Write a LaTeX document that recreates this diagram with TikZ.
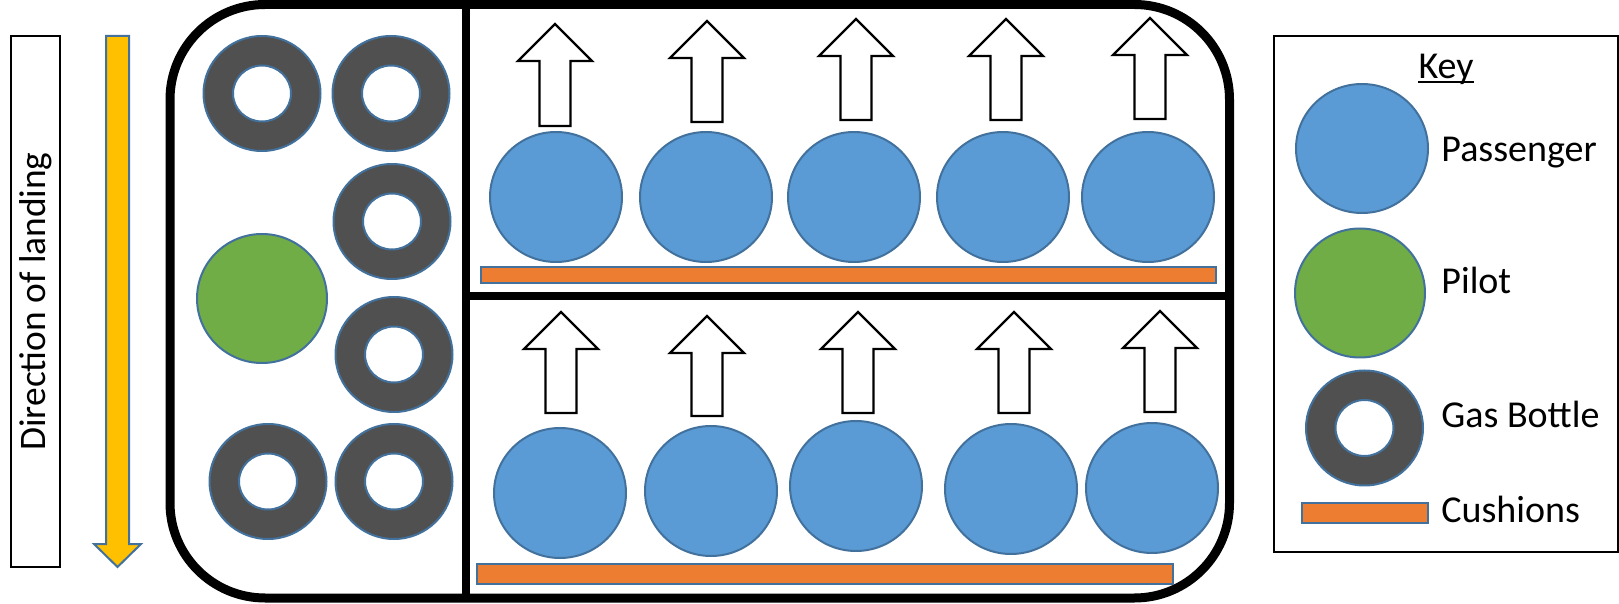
\documentclass[tikz,border=0pt]{standalone}
\usepackage{fontspec}
\setmainfont{Carlito}
\usepackage{tikz}
\usetikzlibrary{shapes.geometric}
\definecolor{cPas}{HTML}{5B9BD5}
\definecolor{cPil}{HTML}{70AD47}
\definecolor{cGas}{HTML}{505050}
\definecolor{cCush}{HTML}{ED7D31}
\definecolor{cYel}{HTML}{FFC000}
\definecolor{cEdge}{HTML}{41719C}

\begin{document}
\begin{tikzpicture}[x=0.5pt, y=-0.5pt, font=\fontsize{19pt}{23pt}\selectfont,
  seat/.style={ellipse, draw=cEdge, fill=#1, line width=1pt, inner sep=0pt},
  pas/.style={seat=cPas, minimum width=66pt, minimum height=65pt},
  pil/.style={seat=cPil, minimum width=65pt, minimum height=64.5pt},
  bottle/.style={seat=cGas, minimum width=58.5pt, minimum height=57.5pt,
    path picture={\draw[cEdge, fill=white, line width=1pt] (path picture bounding box.center) ellipse [x radius=14.5pt, y radius=14pt];}},
  cush/.style={draw=cEdge, fill=cCush, line width=1pt},
  up/.style={draw=black, fill=white, line width=1.2pt, line join=miter},
  lbl/.style={anchor=base west, inner sep=0pt}]
  \useasboundingbox (0,0) rectangle (1619,604);
  \node[draw, line width=1pt, rotate=90, minimum width=265.5pt, minimum height=24.5pt, inner sep=0pt,
        font=\fontsize{18.7pt}{22pt}\selectfont] (dir) at (35.5,301.5) {Direction of landing};
  \draw[fill=cYel, draw=cEdge, line width=1pt] (106,36) -- (129,36) -- (129,544) -- (141,544) -- (117.5,567) -- (94,544) -- (106,544) -- cycle;
  \draw[line width=4.5pt, rounded corners=47.5pt] (170,4.5) rectangle (1229.5,598);
  \draw[line width=4pt] (466,4.5) -- (466,598);
  \draw[line width=4pt] (466,296.5) -- (1229.5,296.5);
  \foreach \x/\y [count=\i] in {262/93.5,391/93.5,392/221.5,394/354.5,268/481.5,394/481.5}
    \node[bottle] (gb\i) at (\x,\y) {};
  \node[pil] (pilot) at (262,298.5) {};
  \foreach \x [count=\i] in {556,706,854,1003,1148} \node[pas] (pt\i) at (\x,197) {};
  \foreach \x/\y [count=\i] in {560/493,711/491,856/486,1011/489,1152/488} \node[pas] (pb\i) at (\x,\y) {};
  \foreach \x/\t/\b in {555/24/126,707/21/122,856/19/120,1006/19/120,1150/18/119,
                        561/312/413,707/316/416,858/312/413,1014/312/413,1160/311/412}
    \draw[up] (\x,\t) -- (\x+37,\t+37) -- (\x+15.5,\t+37) -- (\x+15.5,\b) -- (\x-15.5,\b) -- (\x-15.5,\t+37) -- (\x-37,\t+37) -- cycle;
  \draw[cush] (481,267) rectangle (1216,283);
  \draw[cush] (477,564) rectangle (1173,584);
  \draw[line width=1pt] (1273.5,36) rectangle (1617.5,552);
  \node[anchor=base, inner sep=0pt] (key) at (1446,78.6) {Key};
  \draw[line width=1.1pt] ([yshift=-1.6pt]key.base west) -- ([yshift=-1.6pt]key.base east);
  \node[pas, minimum width=66pt, minimum height=64.5pt] (kpas) at (1362,148.5) {};
  \node[pil] (kpil) at (1360,293) {};
  \node[bottle] (kgas) at (1364.5,428) {};
  \draw[cush] (1302,503) rectangle (1428,523);
  \node[lbl] (lpas) at (1441,162) {Passenger};
  \node[lbl] (lpil) at (1441,294) {Pilot};
  \node[lbl] (lgas) at (1441,428) {Gas Bottle};
  \node[lbl] (lcush) at (1441,523) {Cushions};
\end{tikzpicture}
\end{document}
